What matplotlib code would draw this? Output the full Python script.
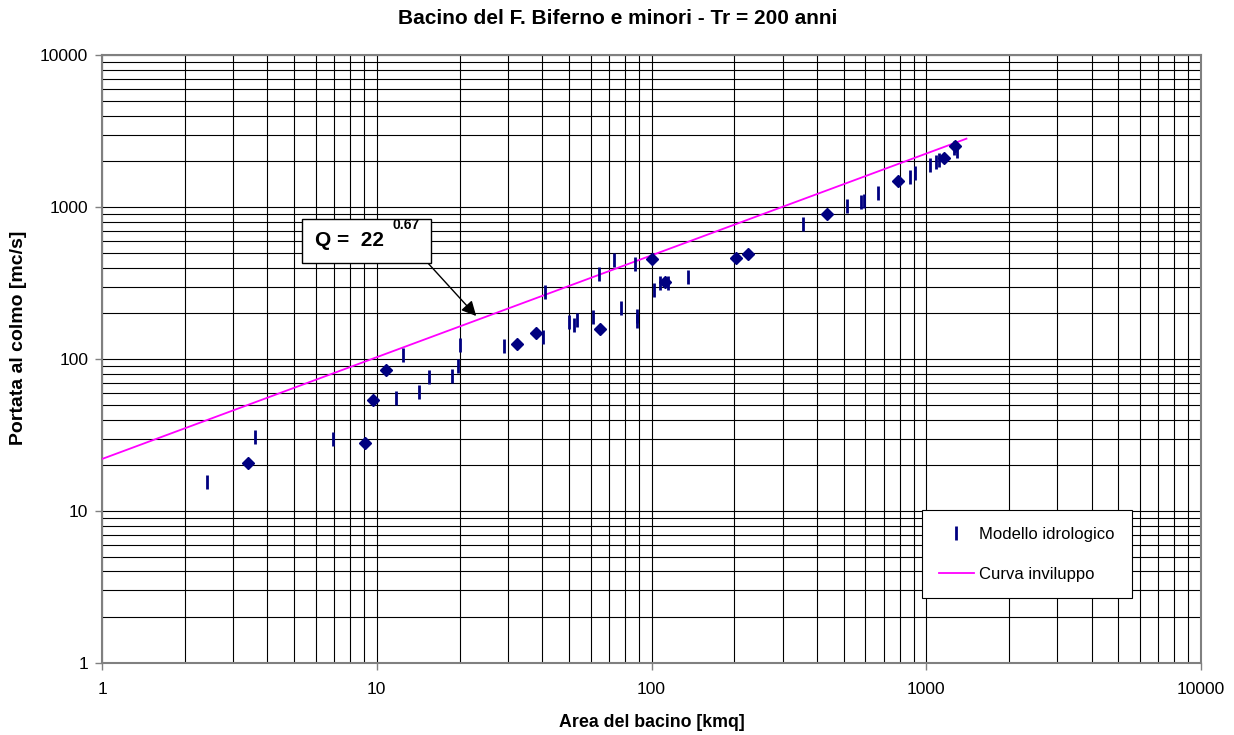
import matplotlib.pyplot as plt

plt.rcParams['font.family'] = ['Liberation Sans', 'DejaVu Sans']

# Modello idrologico - bar markers (area kmq, portata mc/s)
bar_area = [2.40, 3.61, 6.95, 11.7, 12.5, 14.3, 15.5, 18.8, 19.8, 20.0,
            29.1, 40.1, 41.0, 50.2, 52.0, 53.5, 61.1, 64.6, 73.3, 77.7,
            86.7, 88.4, 88.4, 102, 107, 115, 136, 356, 514, 580,
            592, 667, 869, 906, 1033, 1087, 1108, 1260, 1290]
bar_q = [15.6, 30.8, 29.6, 55.1, 107, 60.9, 76.5, 77.3, 90.4, 124,
         122, 140, 277, 176, 167, 180, 188, 361, 448, 218,
         422, 178, 192, 284, 318, 318, 348, 773, 1016, 1075,
         1100, 1231, 1582, 1682, 1889, 1987, 2038, 2450, 2346]

# diamond markers
dia_area = [3.41, 9.06, 9.72, 10.8, 32.5, 38.0, 65.0, 100, 112, 203,
            225, 435, 792, 1162, 1274]
dia_q = [20.6, 28.1, 53.7, 84.7, 126, 148, 158, 455, 323, 460,
         489, 899, 1489, 2110, 2519]

# Curva inviluppo Q = 22 A^0.67
env_area = [1, 1400]
env_q = [22, 2820]

fig = plt.figure(figsize=(12.34, 7.35), dpi=100)
ax = fig.add_axes([0.0827, 0.098, 0.8906, 0.827])

ax.plot(bar_area, bar_q, linestyle='none', marker='|', markersize=10,
        markeredgewidth=2, color='#000080', label='Modello idrologico', zorder=4)
ax.plot(dia_area, dia_q, linestyle='none', marker='D', markersize=6.5,
        color='#000080', zorder=4)
ax.plot(env_area, env_q, color='#FF00FF', lw=1.3, label='Curva inviluppo', zorder=3)

ax.set_xscale('log')
ax.set_yscale('log')
ax.set_xlim(1, 10000)
ax.set_ylim(1, 10000)
ax.set_xticks([1, 10, 100, 1000, 10000])
ax.set_xticklabels(['1', '10', '100', '1000', '10000'])
ax.set_yticks([1, 10, 100, 1000, 10000])
ax.set_yticklabels(['1', '10', '100', '1000', '10000'])
ax.grid(True, which='both', color='black', lw=0.8)
ax.set_axisbelow(True)
ax.tick_params(which='major', direction='out', length=5, width=1, color='#808080',
               labelsize=12.5, pad=5)
ax.tick_params(axis='x', pad=9)
ax.tick_params(which='minor', length=0)
for s in ax.spines.values():
    s.set_color('#808080')
    s.set_linewidth(1.5)

fig.text(0.5008, 0.975, 'Bacino del F. Biferno e minori - Tr = 200 anni', fontsize=15,
         fontweight='bold', ha='center', va='center')
ax.set_xlabel('Area del bacino [kmq]', fontsize=12.8, fontweight='bold')
ax.xaxis.set_label_coords(0.5, -0.084)
ax.set_ylabel('Portata al colmo [mc/s]', fontsize=14, fontweight='bold')
ax.yaxis.set_label_coords(-0.068, 0.535)

# annotation box with arrow
ax.annotate('Q =  22      ', xy=(23, 192), xytext=(5.95, 600),
            fontsize=15, fontweight='bold', va='center', ha='left',
            bbox=dict(boxstyle='square,pad=0.6', fc='white', ec='black', lw=1),
            arrowprops=dict(arrowstyle='-|>', color='black', lw=1,
                            mutation_scale=22, shrinkA=0, shrinkB=0,
                            relpos=(0.98, 0.0)),
            zorder=6)
ax.text(11.4, 760, '0.67', fontsize=10, fontweight='bold', ha='left', va='center',
        zorder=7)

leg = ax.legend(loc='upper left', bbox_to_anchor=(0.746, 0.2516), borderaxespad=0,
                fontsize=12, fancybox=False, edgecolor='black', framealpha=1,
                handlelength=2.15, handletextpad=0.3, borderpad=1.0, labelspacing=1.5)
leg.get_frame().set_linewidth(0.8)

fig.savefig('out.png', dpi=100)
